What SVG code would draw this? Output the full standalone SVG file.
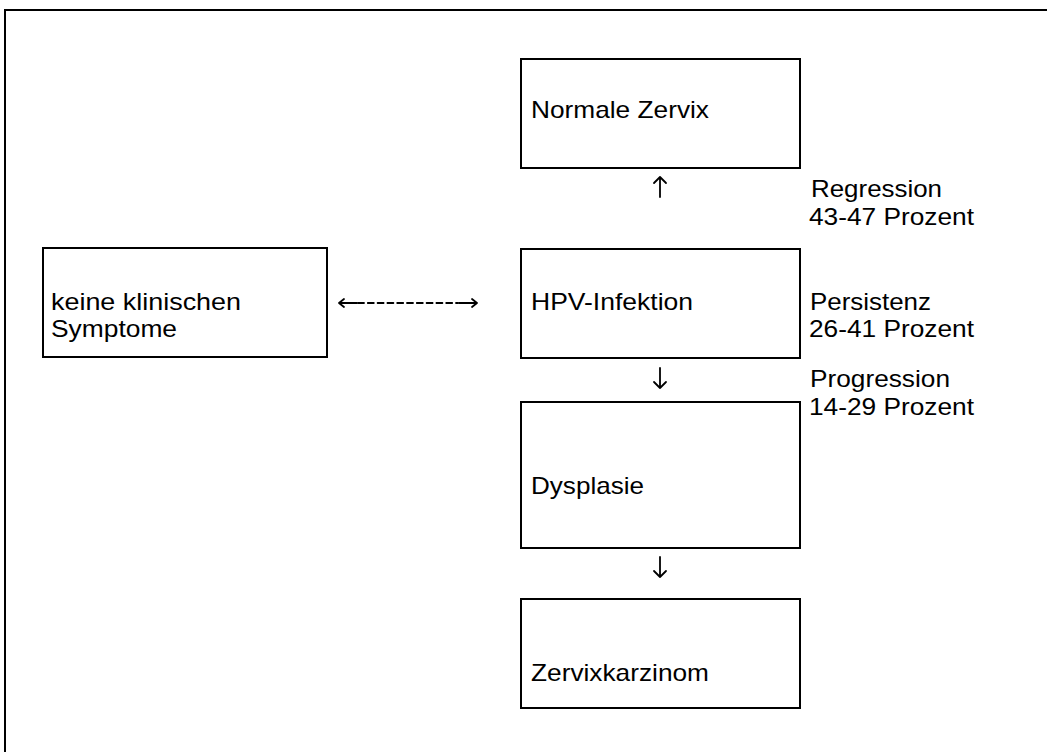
<svg xmlns="http://www.w3.org/2000/svg" width="1047" height="752" viewBox="0 0 1047 752">
<style>
.box{fill:#fff;stroke:#000;stroke-width:2}
.t{font-family:"Liberation Sans",Arial,sans-serif;font-size:24px;fill:#000}
.frame{fill:none;stroke:#000;stroke-width:2}
.arr{fill:none;stroke:#000;stroke-width:1.8;stroke-linecap:round;stroke-linejoin:round}
</style>
<rect width="1047" height="752" fill="#fff"/>
<rect class="frame" x="5" y="10" width="1100" height="800"/>
<g id="node-normal">
<rect class="box" x="521" y="59" width="279" height="109"/>
<text class="t" x="531" y="118" textLength="178" lengthAdjust="spacingAndGlyphs">Normale Zervix</text>
</g>
<g id="node-keine">
<rect class="box" x="43" y="248" width="284" height="109"/>
<text class="t" x="51" y="310" textLength="190" lengthAdjust="spacingAndGlyphs">keine klinischen</text>
<text class="t" x="51" y="337" textLength="126" lengthAdjust="spacingAndGlyphs">Symptome</text>
</g>
<g id="node-hpv">
<rect class="box" x="521" y="249" width="279" height="109"/>
<text class="t" x="531" y="310" textLength="162" lengthAdjust="spacingAndGlyphs">HPV-Infektion</text>
</g>
<g id="node-dysplasie">
<rect class="box" x="521" y="402" width="279" height="146"/>
<text class="t" x="531" y="494" textLength="113" lengthAdjust="spacingAndGlyphs">Dysplasie</text>
</g>
<g id="node-karzinom">
<rect class="box" x="521" y="599" width="279" height="109"/>
<text class="t" x="531" y="681" textLength="178" lengthAdjust="spacingAndGlyphs">Zervixkarzinom</text>
</g>
<g id="labels">
<text class="t" x="811" y="197" textLength="131" lengthAdjust="spacingAndGlyphs">Regression</text>
<text class="t" x="809" y="225" textLength="165" lengthAdjust="spacingAndGlyphs">43-47 Prozent</text>
<text class="t" x="810" y="310" textLength="121" lengthAdjust="spacingAndGlyphs">Persistenz</text>
<text class="t" x="809" y="337" textLength="165" lengthAdjust="spacingAndGlyphs">26-41 Prozent</text>
<text class="t" x="810" y="387" textLength="140" lengthAdjust="spacingAndGlyphs">Progression</text>
<text class="t" x="809" y="415" textLength="165" lengthAdjust="spacingAndGlyphs">14-29 Prozent</text>
</g>
<g id="connectors">
<path class="arr" d="M660 197V177M654 183L660 177L666 183"/>
<path class="arr" d="M660 368V388M654 382L660 388L666 382"/>
<path class="arr" d="M660 557V577M654 571L660 577L666 571"/>
<path class="arr" d="M339 303H357M344 299L339 303L344 307M459 303H477M472 299L477 303L472 307"/>
<path class="arr" d="M358 303H458" stroke-width="2" stroke-dasharray="6 3.8" stroke-linecap="butt"/>
</g>
</svg>
